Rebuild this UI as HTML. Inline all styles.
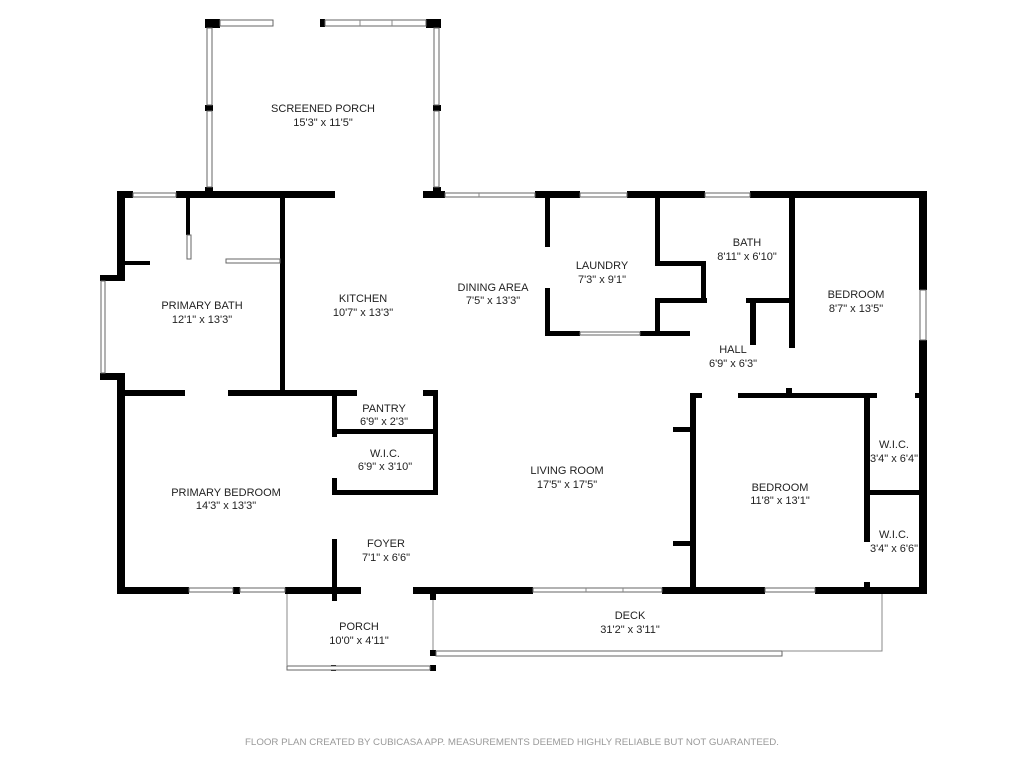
<!DOCTYPE html>
<html><head><meta charset="utf-8"><style>
html,body{margin:0;padding:0;background:#fff;}
svg{display:block;}
text{font-family:"Liberation Sans",sans-serif;font-size:11px;fill:#222;text-anchor:middle;}
.f{font-size:9.5px;fill:#999;}
</style></head><body>
<svg width="1024" height="768" viewBox="0 0 1024 768" xmlns="http://www.w3.org/2000/svg">
<g fill="#000">
<rect x="205" y="19" width="15" height="9"/>
<rect x="426" y="19" width="15" height="9"/>
<rect x="320" y="19" width="5" height="8"/>
<rect x="205" y="105" width="8" height="6"/>
<rect x="433" y="105" width="8" height="6"/>
<rect x="205" y="187" width="8" height="6"/>
<rect x="433" y="187" width="8" height="6"/>
<rect x="117" y="191" width="16" height="7"/>
<rect x="176" y="191" width="159" height="7"/>
<rect x="423" y="191" width="22" height="7"/>
<rect x="535" y="191" width="45" height="7"/>
<rect x="627" y="191" width="78" height="7"/>
<rect x="750" y="191" width="177" height="7"/>
<rect x="919" y="191" width="8" height="99"/>
<rect x="919" y="340" width="8" height="254"/>
<rect x="117" y="191" width="8" height="90"/>
<rect x="100" y="275" width="25" height="6"/>
<rect x="100" y="373" width="25" height="7"/>
<rect x="117" y="373" width="8" height="221"/>
<rect x="125" y="261" width="25" height="4"/>
<rect x="117" y="587" width="72" height="7"/>
<rect x="233" y="587" width="7" height="7"/>
<rect x="285" y="587" width="76" height="7"/>
<rect x="413" y="587" width="120" height="7"/>
<rect x="662" y="587" width="103" height="7"/>
<rect x="815" y="587" width="112" height="7"/>
<rect x="186" y="198" width="4" height="37"/>
<rect x="280" y="198" width="5" height="197"/>
<rect x="125" y="390" width="60" height="6"/>
<rect x="228" y="390" width="129" height="6"/>
<rect x="423" y="390" width="15" height="6"/>
<rect x="332" y="390" width="5" height="47"/>
<rect x="332" y="478" width="5" height="17"/>
<rect x="433" y="390" width="5" height="104"/>
<rect x="332" y="429" width="106" height="5"/>
<rect x="332" y="490" width="106" height="5"/>
<rect x="332" y="539" width="5" height="62"/>
<rect x="545" y="198" width="5" height="49"/>
<rect x="545" y="288" width="5" height="48"/>
<rect x="545" y="331" width="35" height="5"/>
<rect x="640" y="331" width="50" height="5"/>
<rect x="655" y="198" width="5" height="68"/>
<rect x="655" y="261" width="50" height="5"/>
<rect x="701" y="261" width="5" height="42"/>
<rect x="655" y="298" width="52" height="5"/>
<rect x="655" y="298" width="5" height="38"/>
<rect x="789" y="198" width="6" height="150"/>
<rect x="746" y="298" width="47" height="5"/>
<rect x="750" y="298" width="6" height="47"/>
<rect x="690" y="393" width="12" height="5"/>
<rect x="738" y="393" width="139" height="5"/>
<rect x="786" y="388" width="6" height="10"/>
<rect x="915" y="393" width="7" height="5"/>
<rect x="690" y="393" width="6" height="195"/>
<rect x="673" y="427" width="19" height="5"/>
<rect x="673" y="541" width="19" height="5"/>
<rect x="864" y="393" width="6" height="149"/>
<rect x="864" y="582" width="6" height="6"/>
<rect x="864" y="490" width="58" height="5"/>
<rect x="430" y="594" width="6" height="6"/>
<rect x="430" y="665" width="6" height="6"/>
<rect x="430" y="650" width="6" height="6"/>
<rect x="331" y="665" width="5" height="6"/>
</g>
<g fill="#fff" stroke="#666" stroke-width="1">
<rect x="220" y="20" width="53" height="6"/>
<rect x="325" y="20" width="101" height="6"/>
<rect x="207" y="28" width="5" height="77"/>
<rect x="207" y="111" width="5" height="76"/>
<rect x="434" y="28" width="5" height="77"/>
<rect x="434" y="111" width="5" height="76"/>
<rect x="133" y="193" width="43" height="4"/>
<rect x="445" y="193" width="90" height="4"/>
<rect x="580" y="193" width="47" height="4"/>
<rect x="705" y="193" width="45" height="4"/>
<rect x="920" y="290" width="6" height="50"/>
<rect x="101" y="281" width="4" height="92"/>
<rect x="189" y="588" width="44" height="4"/>
<rect x="240" y="588" width="45" height="4"/>
<rect x="533" y="588" width="129" height="4"/>
<rect x="765" y="588" width="50" height="4"/>
<rect x="580" y="332" width="60" height="3"/>
<rect x="187" y="235" width="4" height="24"/>
<rect x="226" y="259" width="54" height="4"/>
<rect x="287" y="666" width="143" height="4"/>
<rect x="436" y="651" width="346" height="5"/>
</g>
<g stroke="#888" stroke-width="1" fill="none">
<line x1="479" y1="193" x2="479" y2="197"/>
<line x1="287" y1="594" x2="287" y2="666"/>
<line x1="433" y1="600" x2="433" y2="650"/>
<polyline points="782,651 882,651 882,594"/>
<line x1="586" y1="588" x2="586" y2="592"/>
<line x1="623" y1="588" x2="623" y2="592"/>
<line x1="360" y1="20" x2="360" y2="26"/>
<line x1="392" y1="20" x2="392" y2="26"/>
</g>
<text x="323" y="112">SCREENED PORCH</text><text x="323" y="126">15'3" x 11'5"</text>
<text x="202" y="309">PRIMARY BATH</text><text x="202" y="323">12'1" x 13'3"</text>
<text x="363" y="302">KITCHEN</text><text x="363" y="316">10'7" x 13'3"</text>
<text x="493" y="291">DINING AREA</text><text x="493" y="304">7'5" x 13'3"</text>
<text x="602" y="269">LAUNDRY</text><text x="602" y="283">7'3" x 9'1"</text>
<text x="747" y="246">BATH</text><text x="747" y="260">8'11" x 6'10"</text>
<text x="856" y="298">BEDROOM</text><text x="856" y="312">8'7" x 13'5"</text>
<text x="733" y="353">HALL</text><text x="733" y="367">6'9" x 6'3"</text>
<text x="384" y="412">PANTRY</text><text x="384" y="425">6'9" x 2'3"</text>
<text x="385" y="457">W.I.C.</text><text x="385" y="470">6'9" x 3'10"</text>
<text x="226" y="496">PRIMARY BEDROOM</text><text x="226" y="509">14'3" x 13'3"</text>
<text x="567" y="474">LIVING ROOM</text><text x="567" y="488">17'5" x 17'5"</text>
<text x="780" y="491">BEDROOM</text><text x="780" y="504">11'8" x 13'1"</text>
<text x="894" y="448">W.I.C.</text><text x="894" y="462">3'4" x 6'4"</text>
<text x="894" y="538">W.I.C.</text><text x="894" y="552">3'4" x 6'6"</text>
<text x="386" y="547">FOYER</text><text x="386" y="561">7'1" x 6'6"</text>
<text x="359" y="630">PORCH</text><text x="359" y="644">10'0" x 4'11"</text>
<text x="630" y="619">DECK</text><text x="630" y="633">31'2" x 3'11"</text>
<text class="f" x="512" y="745" textLength="534" lengthAdjust="spacingAndGlyphs">FLOOR PLAN CREATED BY CUBICASA APP. MEASUREMENTS DEEMED HIGHLY RELIABLE BUT NOT GUARANTEED.</text>
</svg>
</body></html>
